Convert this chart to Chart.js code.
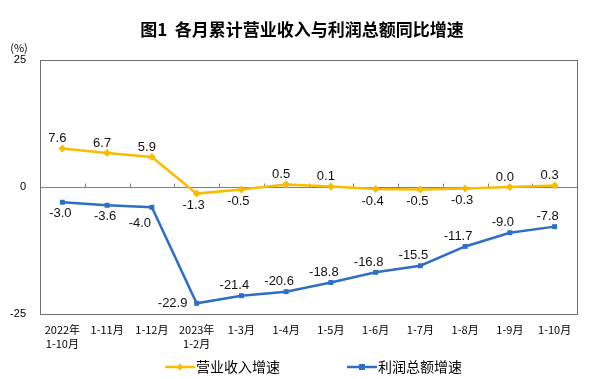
<!DOCTYPE html>
<html>
<head>
<meta charset="utf-8">
<script src="https://cdn.jsdelivr.net/npm/chart.js@4/dist/chart.umd.min.js"></script>
<style>
html,body{margin:0;padding:0;background:#fff;}
#wrap{width:600px;height:379px;position:relative;}
</style>
</head>
<body>
<div id="wrap"><canvas id="c" width="600" height="379"></canvas></div>
<script>
const categories = [['2022年','1-10月'],'1-11月','1-12月',['2023年','1-2月'],'1-3月','1-4月','1-5月','1-6月','1-7月','1-8月','1-9月','1-10月'];
const revenueGrowth = [7.6, 6.7, 5.9, -1.3, -0.5, 0.5, 0.1, -0.4, -0.5, -0.3, 0.0, 0.3];
const profitGrowth = [-3.0, -3.6, -4.0, -22.9, -21.4, -20.6, -18.8, -16.8, -15.5, -11.7, -9.0, -7.8];
const yTicks = [-25, 0, 25];
const seriesNames = ['营业收入增速', '利润总额增速'];
const titleText = '图1  各月累计营业收入与利润总额同比增速';
const unitText = '(%)';

const ORANGE = '#F9BC00';
const BLUE = '#2E6EC4';
const CJK = '"Noto Sans CJK SC", sans-serif';
const LAT = '"Liberation Sans", Arial, sans-serif';

// label placement: [dx, dy]
const revPos = revenueGrowth.map(v => v > 0.05 || v === 0 ? [-5, -10] : [-3, 12]);
const proPos = profitGrowth.map((v, i) => {
  if (i < 2) return [-2, 11];
  if (i === 2) return [-12, 16];
  if (i === 3) return [-24, 0];
  return [-7, -10];
});

const decor = {
  id: 'decor',
  beforeDatasetsDraw(chart) {
    const ctx = chart.ctx, ca = chart.chartArea;
    const y = chart.scales.y;
    ctx.save();
    const y0 = Math.round(y.getPixelForValue(0)) + 0.5;
    ctx.strokeStyle = '#7f7f7f';
    ctx.lineWidth = 1;
    ctx.beginPath();
    ctx.moveTo(ca.left, y0); ctx.lineTo(ca.right, y0);
    const w = (ca.right - ca.left) / categories.length;
    for (let i = 1; i < categories.length; i++) {
      const xx = Math.round(ca.left + i * w) + 0.5;
      ctx.moveTo(xx, y0); ctx.lineTo(xx, y0 - 4);
    }
    ctx.stroke();
    ctx.strokeStyle = '#6f6f6f';
    ctx.strokeRect(Math.round(ca.left) + 0.5, Math.round(ca.top) + 0.5, Math.round(ca.right - ca.left), Math.round(ca.bottom - ca.top));
    ctx.restore();
  },
  afterDraw(chart) {
    const ctx = chart.ctx;
    ctx.save();
    ctx.fillStyle = '#000';
    ctx.font = 'bold 17px ' + CJK;
    ctx.textAlign = 'center';
    ctx.textBaseline = 'middle';
    ctx.fillText(titleText, 302, 30);
    ctx.font = '11px ' + CJK;
    ctx.fillText(unitText, 19, 48);
    ctx.font = '13px ' + LAT;
    ctx.fillStyle = '#111';
    const drawLabels = (di, vals, pos) => {
      const meta = chart.getDatasetMeta(di);
      meta.data.forEach((pt, i) => {
        ctx.fillText(vals[i].toFixed(1), pt.x + pos[i][0], pt.y + pos[i][1]);
      });
    };
    drawLabels(0, revenueGrowth, revPos);
    drawLabels(1, profitGrowth, proPos);
    const items = [
      {x: 165, color: ORANGE, style: 'diamond', name: seriesNames[0]},
      {x: 347, color: BLUE, style: 'square', name: seriesNames[1]}
    ];
    const ly = 367;
    items.forEach(it => {
      ctx.strokeStyle = it.color; ctx.lineWidth = 2.5;
      ctx.beginPath(); ctx.moveTo(it.x, ly); ctx.lineTo(it.x + 30, ly); ctx.stroke();
      ctx.fillStyle = it.color;
      const cx = it.x + 15;
      if (it.style === 'diamond') {
        ctx.beginPath(); ctx.moveTo(cx, ly - 3.5); ctx.lineTo(cx + 3.5, ly); ctx.lineTo(cx, ly + 3.5); ctx.lineTo(cx - 3.5, ly); ctx.closePath(); ctx.fill();
      } else {
        ctx.fillRect(cx - 3, ly - 3, 6, 6);
      }
      ctx.fillStyle = '#000';
      ctx.font = '14px ' + CJK;
      ctx.textAlign = 'left';
      ctx.fillText(it.name, it.x + 31, ly);
    });
    ctx.restore();
  }
};

new Chart(document.getElementById('c'), {
  type: 'line',
  data: {
    labels: categories,
    datasets: [
      {label: seriesNames[0], data: revenueGrowth, borderColor: ORANGE, backgroundColor: ORANGE, borderWidth: 2.5, pointStyle: 'rectRot', pointRadius: 4, pointBorderWidth: 0, tension: 0},
      {label: seriesNames[1], data: profitGrowth, borderColor: BLUE, backgroundColor: BLUE, borderWidth: 2.5, pointStyle: 'rect', pointRadius: 3.5, pointBorderWidth: 0, tension: 0}
    ]
  },
  options: {
    responsive: false,
    animation: false,
    events: [],
    layout: {padding: {top: 60, right: 23, left: 0, bottom: 0}},
    plugins: {legend: {display: false}, title: {display: false}, tooltip: {enabled: false}},
    scales: {
      x: {
        type: 'category',
        offset: true,
        grid: {display: false, drawTicks: false},
        border: {display: false},
        ticks: {color: '#000', font: {family: CJK, size: 11, lineHeight: 1.25}, padding: 9, maxRotation: 0, autoSkip: false},
        afterFit(s) { s.height = 65; }
      },
      y: {
        min: -25, max: 25,
        afterBuildTicks(s) { s.ticks = yTicks.map(v => ({value: v})); },
        grid: {display: false, drawTicks: false},
        border: {display: false},
        ticks: {color: '#000', font: {family: LAT, size: 11}, padding: 14},
        afterFit(s) { s.width = 40; }
      }
    }
  },
  plugins: [decor]
});
</script>
</body>
</html>
